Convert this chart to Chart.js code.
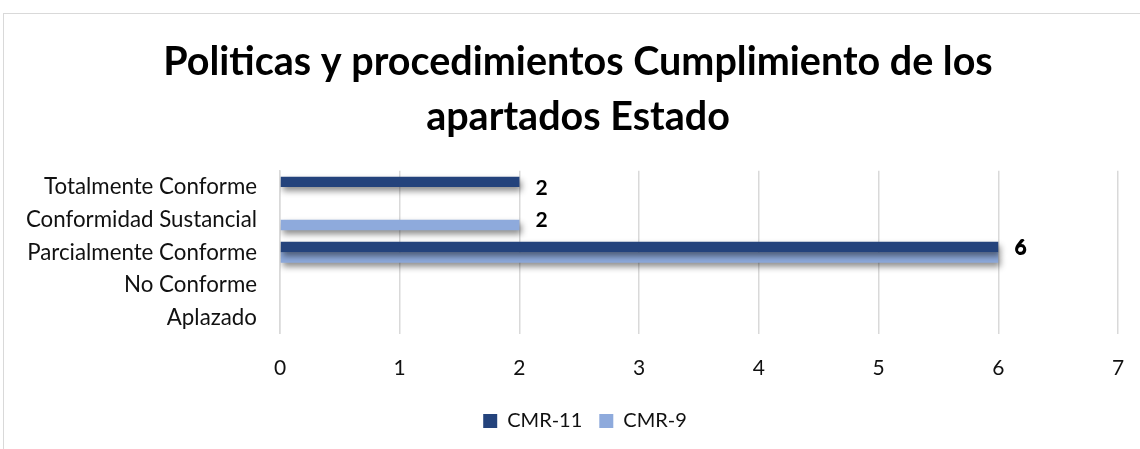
<!DOCTYPE html>
<html>
<head>
<meta charset="utf-8">
<script src="https://cdn.jsdelivr.net/npm/chart.js@4"></script>
<style>
html,body{margin:0;padding:0;background:#fff;width:1140px;height:449px;overflow:hidden;}
#frame{position:absolute;left:3px;top:13px;width:1140px;height:449px;border:1px solid #d9d9d9;box-sizing:border-box;}
#wrap{position:absolute;left:0;top:0;width:1140px;height:449px;}
</style>
</head>
<body>
<div id="frame"></div>
<div id="wrap"><canvas id="c" width="1140" height="449"></canvas></div>
<script>
const titleLines = ["Politicas y procedimientos Cumplimiento de los", "apartados Estado"];
const categories = ["Totalmente Conforme", "Conformidad Sustancial", "Parcialmente Conforme", "No Conforme", "Aplazado"];
const seriesNames = ["CMR-11", "CMR-9"];
const cmr11 = [2, null, 6, null, null];
const cmr9 = [null, 2, 6, null, null];
const xTicks = [0, 1, 2, 3, 4, 5, 6, 7];

const FONT = "Lato, 'Open Sans', sans-serif";

// centre title and legend on the (wider, cropped) chart frame
const centerPlugin = {
  id: 'frameCenter',
  afterLayout(chart) {
    const move = (box, cx) => {
      if (!box) return;
      const d = cx - (box.left + box.right) / 2;
      box.left += d; box.right += d;
    };
    move(chart.titleBlock, 578);
    move(chart.legend, 585);
  }
};

const shadowPlugin = {
  id: 'shadow',
  beforeDatasetsDraw(chart) {
    const ctx = chart.ctx;
    ctx.save();
    ctx.shadowColor = 'rgba(0,0,0,0.45)';
    ctx.shadowBlur = 6;
    ctx.shadowOffsetX = 2;
    ctx.shadowOffsetY = 4;
  },
  afterDatasetsDraw(chart) {
    chart.ctx.restore();
  }
};

const labelPlugin = {
  id: 'barLabels',
  afterDraw(chart) {
    const ctx = chart.ctx;
    const yScale = chart.scales.y;
    ctx.save();
    ctx.font = "bold 21px " + FONT;
    ctx.fillStyle = '#000';
    ctx.textAlign = 'left';
    ctx.textBaseline = 'middle';
    categories.forEach((cat, i) => {
      const items = [];
      chart.data.datasets.forEach((ds, di) => {
        const v = ds.data[i];
        if (v === null || v === undefined) return;
        const el = chart.getDatasetMeta(di).data[i];
        items.push({v, x: el.x, y: el.y});
      });
      if (!items.length) return;
      if (items.length === 1) {
        ctx.fillText(String(items[0].v), items[0].x + 16, yScale.getPixelForValue(i) + 1);
      } else {
        items.forEach((it, k) => {
          ctx.fillText(String(it.v), it.x + 16 + k * 0.5, items[0].y + k * 1.5);
        });
      }
    });
    ctx.restore();
  }
};

new Chart(document.getElementById('c'), {
  type: 'bar',
  data: {
    labels: categories,
    datasets: [
      { label: seriesNames[0], data: cmr11, backgroundColor: '#24437C', borderWidth: 0 },
      { label: seriesNames[1], data: cmr9, backgroundColor: '#8EAADC', borderWidth: 0 }
    ]
  },
  options: {
    indexAxis: 'y',
    responsive: false,
    animation: false,
    devicePixelRatio: 1,
    categoryPercentage: 0.64,
    barPercentage: 1,
    layout: { padding: { left: 0, right: 22, top: 0, bottom: 8 } },
    scales: {
      x: {
        min: 0, max: 7,
        afterBuildTicks(scale) { scale.ticks = xTicks.map(v => ({ value: v })); },
        afterFit(scale) { scale.height -= 9; scale.paddingLeft = 0; scale.paddingRight = 0; },
        grid: { color: '#d9d9d9', lineWidth: 1.5, drawTicks: false },
        border: { display: false },
        ticks: { font: { family: FONT, size: 21 }, color: '#111', padding: 22 }
      },
      y: {
        afterFit(scale) { scale.width = 280; },
        grid: { display: false, drawTicks: false },
        border: { display: true, color: '#d9d9d9', width: 1.5 },
        ticks: { font: { family: FONT, size: 22.3 }, color: '#111', padding: 23 }
      }
    },
    plugins: {
      title: {
        display: true,
        text: titleLines,
        font: { family: FONT, size: 39.5, weight: 'bold', lineHeight: 1.39 },
        color: '#000',
        padding: { top: 35, bottom: 26 }
      },
      legend: {
        position: 'bottom',
        labels: { font: { family: FONT, size: 20 }, color: '#111', boxWidth: 14, boxHeight: 14, padding: 17 }
      },
      tooltip: { enabled: false }
    }
  },
  plugins: [centerPlugin, shadowPlugin, labelPlugin]
});
</script>
</body>
</html>
